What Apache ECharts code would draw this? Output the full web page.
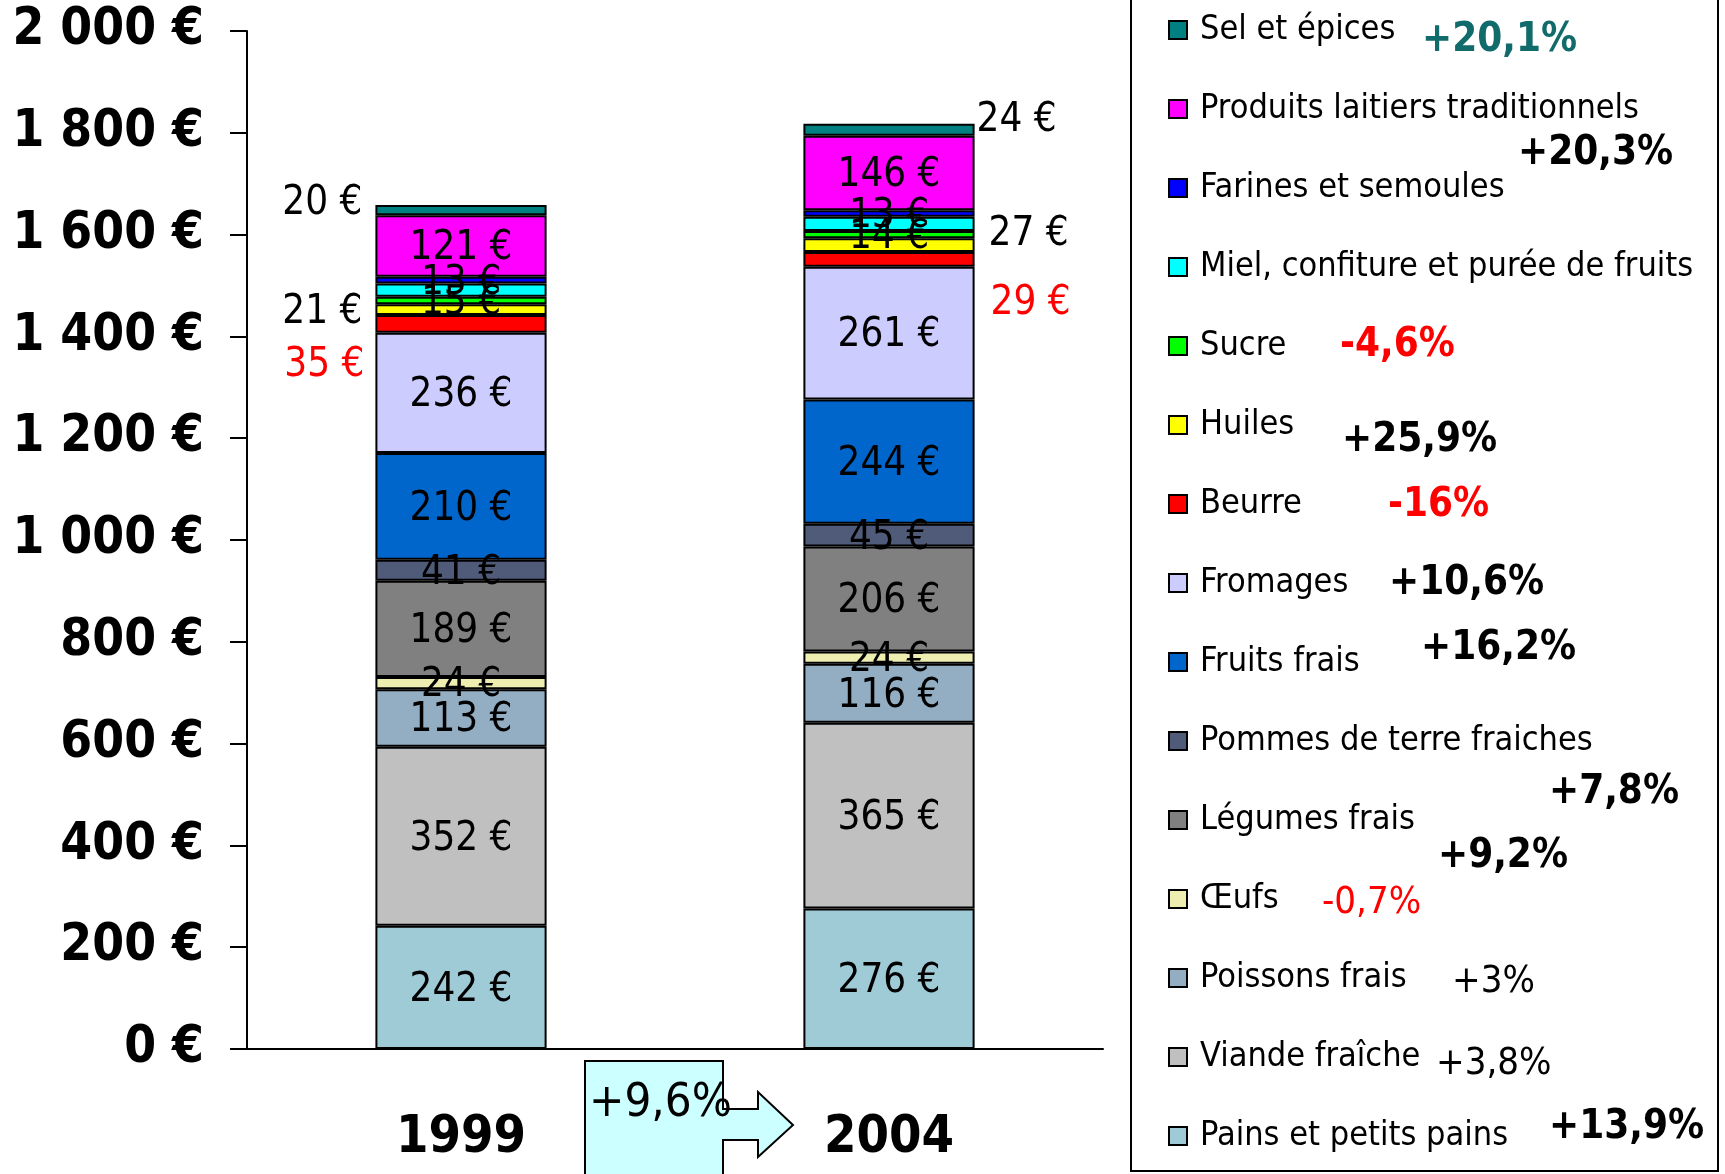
<!DOCTYPE html>
<html>
<head>
<meta charset="utf-8">
<script src="https://cdn.jsdelivr.net/npm/echarts@6/dist/echarts.min.js"></script>
<style>
  html, body { margin: 0; padding: 0; background: #fff; }
  #chart { width: 1725px; height: 1174px; }
</style>
</head>
<body>
<div id="chart"></div>
<script>
const FONT = "'DejaVu Sans Condensed', 'DejaVu Sans', sans-serif"

const years = ['1999', '2004']
const yTicks = [0, 200, 400, 600, 800, 1000, 1200, 1400, 1600, 1800, 2000]

// stack order, bottom to top
const products = [
  'Pains et petits pains', 'Viande fraîche', 'Poissons frais', 'Œufs',
  'Légumes frais', 'Pommes de terre fraiches', 'Fruits frais', 'Fromages',
  'Beurre', 'Huiles', 'Sucre', 'Miel, confiture et purée de fruits',
  'Farines et semoules', 'Produits laitiers traditionnels', 'Sel et épices'
]
const spend1999 = [242, 352, 113, 24, 189, 41, 210, 236, 35, 21, 15, 26, 13, 121, 20]
const spend2004 = [276, 365, 116, 24, 206, 45, 244, 261, 29, 27, 14, 28, 13, 146, 24]
const colors = [
  '#9ecbd6', '#c0c0c0', '#93aec3', '#eeeeb0', '#808080', '#4f5b78', '#0066cc',
  '#ccccff', '#ff0000', '#ffff00', '#00ff00', '#00ffff', '#0000ff', '#ff00ff', '#008080'
]

// evolution 1999 -> 2004 shown next to the legend
const evolution = ['+13,9%', '+3,8%', '+3%', '-0,7%', '+9,2%', '+7,8%', '+16,2%',
  '+10,6%', '-16%', '+25,9%', '-4,6%', '', '', '+20,3%', '+20,1%']
const totalEvolution = '+9,6%'

// label placement: most inside centred, a few beside the bar
const outside = {
  'Sel et épices': { color: '#000', off: [[0, -7], [0, -9]], dist: [13, 2] },
  'Huiles': { color: '#000', off: [[0, 3], [0, -10]], dist: [13, 14] },
  'Beurre': { color: '#ff0000', off: [[0, 42], [0, 44]], dist: [11, 16] }
}
const hidden = ['Miel, confiture et purée de fruits']

const chart = echarts.init(document.getElementById('chart'))

const series = products.map((name, i) => {
  const vals = [spend1999[i], spend2004[i]]
  const o = outside[name]
  const data = vals.map((v, k) => {
    if (o) {
      return {
        value: v,
        label: {
          show: true,
          position: k === 0 ? 'left' : 'right',
          distance: o.dist[k],
          offset: o.off[k],
          color: o.color
        }
      }
    }
    return { value: v }
  })
  return {
    name: name,
    type: 'bar',
    stack: 'total',
    barWidth: '40%',
    data: data,
    itemStyle: { color: colors[i], borderColor: '#000', borderWidth: 2 },
    label: {
      show: hidden.indexOf(name) < 0,
      position: 'inside',
      offset: [0, 3],
      fontSize: 40,
      fontFamily: FONT,
      color: '#000',
      formatter: p => p.value + ' €'
    },
    emphasis: { disabled: true }
  }
})

// percentages printed right of the legend entries
const pctStyle = [
  { t: '+20,1%', x: 1422, y: 42, c: '#116b6b', b: true },
  { t: '+20,3%', x: 1518, y: 155, c: '#000', b: true },
  { t: '-4,6%', x: 1340, y: 347, c: '#ff0000', b: true },
  { t: '+25,9%', x: 1342, y: 442, c: '#000', b: true },
  { t: '-16%', x: 1388, y: 507, c: '#ff0000', b: true },
  { t: '+10,6%', x: 1389, y: 585, c: '#000', b: true },
  { t: '+16,2%', x: 1421, y: 650, c: '#000', b: true },
  { t: '+7,8%', x: 1549, y: 794, c: '#000', b: true },
  { t: '+9,2%', x: 1438, y: 858, c: '#000', b: true },
  { t: '-0,7%', x: 1322, y: 905, c: '#ff0000', b: false },
  { t: '+3%', x: 1452, y: 984, c: '#000', b: false },
  { t: '+3,8%', x: 1436, y: 1066, c: '#000', b: false },
  { t: '+13,9%', x: 1549, y: 1129, c: '#000', b: true }
]
const pctTexts = pctStyle.filter(s => evolution.indexOf(s.t) >= 0).map(s => ({
  type: 'text',
  left: s.x,
  top: s.y - 21,
  z: 10,
  style: {
    text: s.t,
    fill: s.c,
    font: (s.b ? 'bold 40px ' : '38px ') + FONT
  }
}))

chart.setOption({
  backgroundColor: '#fff',
  animation: false,
  textStyle: { fontFamily: FONT },
  grid: { left: 247, right: 622, top: 31, bottom: 125 },
  legend: {
    orient: 'vertical',
    left: 1163,
    top: 5,
    itemWidth: 18,
    itemHeight: 18,
    itemGap: 39,
    icon: 'rect',
    selectedMode: false,
    data: products.slice().reverse(),
    itemStyle: { borderColor: '#000', borderWidth: 2 },
    textStyle: { fontSize: 34, lineHeight: 40, color: '#000', fontFamily: FONT, padding: [0, 0, 0, 8] }
  },
  xAxis: {
    type: 'category',
    data: years,
    axisLine: { lineStyle: { color: '#000', width: 2 } },
    axisTick: { length: 18, lineStyle: { color: '#000', width: 2 } },
    axisLabel: { fontSize: 52, fontWeight: 'bold', color: '#000', margin: 63, fontFamily: FONT }
  },
  yAxis: {
    type: 'value',
    min: yTicks[0],
    max: yTicks[yTicks.length - 1],
    interval: yTicks[1] - yTicks[0],
    splitLine: { show: false },
    axisLine: { show: true, lineStyle: { color: '#000', width: 2 } },
    axisTick: { show: true, length: 17, lineStyle: { color: '#000', width: 2 } },
    axisLabel: {
      fontSize: 51,
      fontWeight: 'bold',
      color: '#000',
      margin: 43,
      fontFamily: FONT,
      formatter: v => String(v).replace(/\B(?=(\d{3})+(?!\d))/g, ' ') + ' €'
    }
  },
  series: series,
  graphic: [
    {
      type: 'rect',
      shape: { x: 1131, y: -5, width: 587, height: 1176 },
      style: { fill: 'none', stroke: '#000', lineWidth: 2 },
      z: 1
    },
    {
      type: 'polygon',
      shape: {
        points: [[585, 1061], [723, 1061], [723, 1109], [758, 1109], [758, 1092], [793, 1125],
          [758, 1157], [758, 1140], [723, 1140], [723, 1185], [585, 1185]]
      },
      style: { fill: '#ccffff', stroke: '#000', lineWidth: 2 },
      z: 5
    },
    {
      type: 'text',
      left: 589,
      top: 1080,
      z: 6,
      style: { text: totalEvolution, fill: '#000', font: '47px ' + FONT }
    }
  ].concat(pctTexts)
})
</script>
</body>
</html>
